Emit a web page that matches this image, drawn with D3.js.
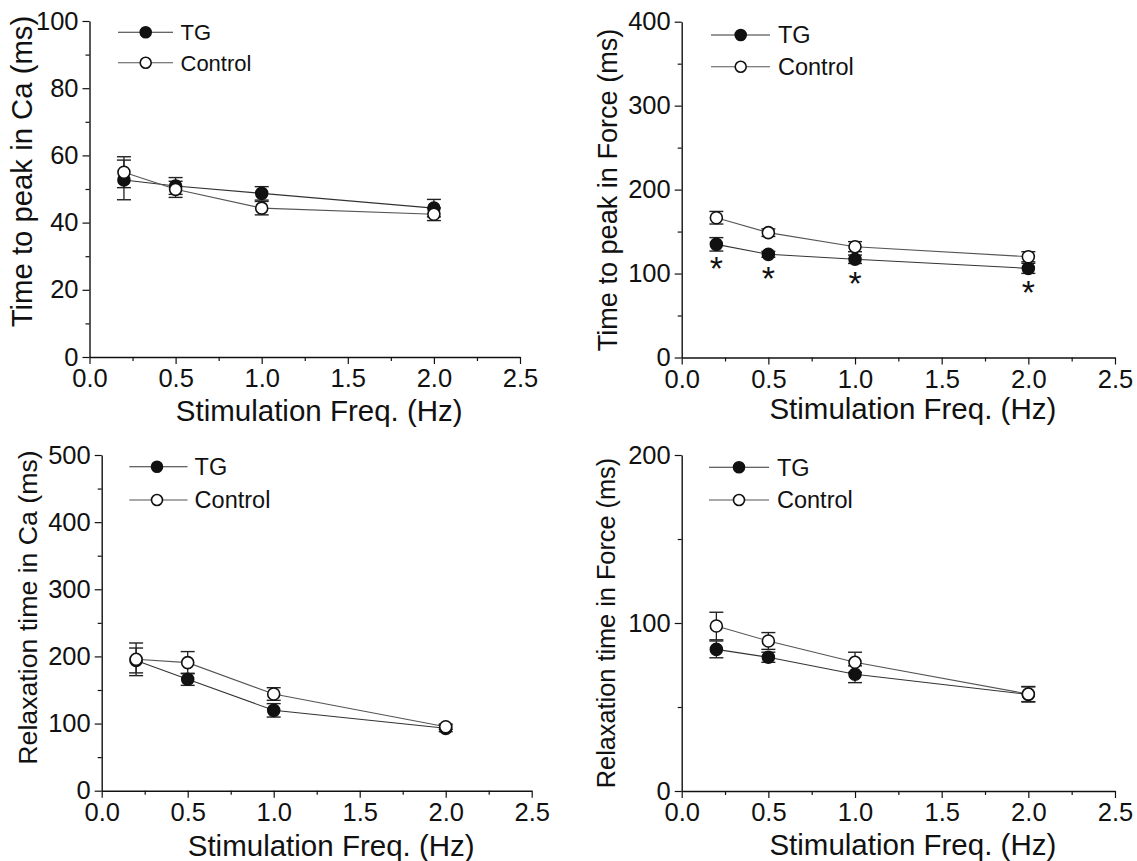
<!DOCTYPE html>
<html>
<head>
<meta charset="utf-8">
<script src="https://cdn.jsdelivr.net/npm/d3@7"></script>
<style>
  html, body { margin: 0; padding: 0; background: #fff; }
  svg { display: block; }
  text { font-family: "Liberation Sans", Arial, Helvetica, sans-serif; fill: #111; }
</style>
</head>
<body>
<svg id="chart" width="1137" height="861"></svg>
<script>
// ---------------- DATA ----------------
const freq = [0.2, 0.5, 1.0, 2.0];
const xTicks = [0, 0.5, 1.0, 1.5, 2.0, 2.5];
const xMinorTicks = [0.25, 0.75, 1.25, 1.75, 2.25];
const xTitle = "Stimulation Freq. (Hz)";
const seriesNames = ["TG", "Control"];

// Time to peak in Ca
const caPeakTG = [52.7, 50.9, 48.7, 44.3];
const caPeakTGErr = [5.9, 2.5, 2.0, 2.6];
const caPeakCtrl = [55.0, 49.9, 44.3, 42.5];
const caPeakCtrlErr = [4.6, 2.4, 2.0, 1.9];
const caPeakTicks = [0, 20, 40, 60, 80, 100];
const caPeakMinor = [10, 30, 50, 70, 90];

// Time to peak in Force
const forcePeakTG = [134.8, 122.9, 117.0, 106.2];
const forcePeakTGErr = [8, 3.5, 5, 6];
const forcePeakCtrl = [166.5, 148.7, 132.0, 120.0];
const forcePeakCtrlErr = [7.5, 4.5, 6, 6];
const forcePeakSig = [true, true, true, true];
const forcePeakTicks = [0, 100, 200, 300, 400];
const forcePeakMinor = [50, 150, 250, 350];

// Relaxation time in Ca
const caRelaxTG = [194.0, 165.9, 119.7, 92.9];
const caRelaxTGErr = [18.5, 9, 10, 5];
const caRelaxCtrl = [195.7, 190.7, 144.0, 95.3];
const caRelaxCtrlErr = [24.3, 16.5, 9.4, 4];
const caRelaxTicks = [0, 100, 200, 300, 400, 500];
const caRelaxMinor = [50, 150, 250, 350, 450];

// Relaxation time in Force
const forceRelaxTG = [84.3, 79.6, 69.5, 57.5];
const forceRelaxTGErr = [5, 3, 5, 4.5];
const forceRelaxCtrl = [98.2, 89.3, 76.6, 57.7];
const forceRelaxCtrlErr = [8.2, 5, 6, 4.5];
const forceRelaxTicks = [0, 100, 200];
const forceRelaxMinor = [50, 150];

const yTitles = ["Time to peak in Ca (ms)", "Time to peak in Force (ms)",
                 "Relaxation time in Ca (ms)", "Relaxation time in Force (ms)"];

// ---------------- LAYOUT ----------------
const panels = [
  { tg: caPeakTG, tgErr: caPeakTGErr, ctrl: caPeakCtrl, ctrlErr: caPeakCtrlErr,
    ticks: caPeakTicks, minor: caPeakMinor, title: yTitles[0], sig: null,
    L: { x0: 89.5, x1: 520, yTop: 21, yBot: 357, tFont: 29.3, tX: 32, tY: 171.5,
         legX0: 118, legX1: 173, legM: 145.7, legT: 180.5, legY: [32.3, 62.7], legFont: 22, xTitleY: 421 } },
  { tg: forcePeakTG, tgErr: forcePeakTGErr, ctrl: forcePeakCtrl, ctrlErr: forcePeakCtrlErr,
    ticks: forcePeakTicks, minor: forcePeakMinor, title: yTitles[1], sig: forcePeakSig,
    L: { x0: 681.7, x1: 1115, yTop: 21.7, yBot: 357.5, tFont: 27.1, tX: 616.5, tY: 190,
         legX0: 711, legX1: 770, legM: 740.7, legT: 778, legY: [35, 66.7], legFont: 23.5, xTitleY: 419 } },
  { tg: caRelaxTG, tgErr: caRelaxTGErr, ctrl: caRelaxCtrl, ctrlErr: caRelaxCtrlErr,
    ticks: caRelaxTicks, minor: caRelaxMinor, title: yTitles[2], sig: null,
    L: { x0: 101.7, x1: 531.7, yTop: 455, yBot: 790.7, tFont: 26.7, tX: 37, tY: 607.5,
         legX0: 129.3, legX1: 187.5, legM: 157, legT: 194.6, legY: [466.7, 500], legFont: 23.5, xTitleY: 856 } },
  { tg: forceRelaxTG, tgErr: forceRelaxTGErr, ctrl: forceRelaxCtrl, ctrlErr: forceRelaxCtrlErr,
    ticks: forceRelaxTicks, minor: forceRelaxMinor, title: yTitles[3], sig: null,
    L: { x0: 681.7, x1: 1115, yTop: 455, yBot: 791, tFont: 25.3, tX: 615, tY: 623,
         legX0: 709, legX1: 769, legM: 739, legT: 777, legY: [467.3, 500], legFont: 23.5, xTitleY: 855 } }
];

const svg = d3.select("#chart");
const R = 6, CAP = 7;
const lineCol = ["#333", "#555"];

panels.forEach(p => {
  const L = p.L;
  const x = d3.scaleLinear().domain([xTicks[0], xTicks[xTicks.length - 1]]).range([L.x0, L.x1]);
  const y = d3.scaleLinear().domain([p.ticks[0], p.ticks[p.ticks.length - 1]]).range([L.yBot, L.yTop]);
  const g = svg.append("g");

  // x axis (major + minor)
  g.append("g").attr("transform", `translate(0,${L.yBot})`)
    .call(d3.axisBottom(x).tickValues(xTicks).tickSize(7).tickSizeOuter(0).tickPadding(5)
      .tickFormat(d3.format(".1f")));
  const xm = g.append("g").attr("transform", `translate(0,${L.yBot})`)
    .call(d3.axisBottom(x).tickValues(xMinorTicks).tickSize(4).tickSizeOuter(0).tickFormat(""));
  xm.select(".domain").remove();

  // y axis (major + minor)
  g.append("g").attr("transform", `translate(${L.x0},0)`)
    .call(d3.axisLeft(y).tickValues(p.ticks).tickSize(7).tickSizeOuter(0).tickPadding(4)
      .tickFormat(d3.format("d")));
  const ym = g.append("g").attr("transform", `translate(${L.x0},0)`)
    .call(d3.axisLeft(y).tickValues(p.minor).tickSize(4).tickSizeOuter(0).tickFormat(""));
  ym.select(".domain").remove();

  g.selectAll(".domain").attr("stroke", "#111").attr("stroke-width", 1.4);
  g.selectAll(".tick line").attr("stroke", "#111").attr("stroke-width", 1.2);
  g.selectAll(".tick text").attr("font-size", 25.5).attr("fill", "#111")
    .attr("font-family", '"Liberation Sans", Arial, sans-serif');

  // axis titles
  g.append("text").attr("x", (L.x0 + L.x1) / 2 + 14.5).attr("y", L.xTitleY)
    .attr("text-anchor", "middle").attr("font-size", 29.5).text(xTitle);
  g.append("text").attr("transform", `translate(${L.tX},${L.tY}) rotate(-90)`)
    .attr("text-anchor", "middle").attr("font-size", L.tFont).text(p.title);

  // series
  const series = [
    { vals: p.tg, err: p.tgErr, fill: "#111", col: lineCol[0] },
    { vals: p.ctrl, err: p.ctrlErr, fill: "#fff", col: lineCol[1] }
  ];
  const line = d3.line().x((d, i) => x(freq[i])).y(d => y(d));

  series.forEach(s => {
    g.append("path").datum(s.vals).attr("d", line).attr("fill", "none")
      .attr("stroke", s.col).attr("stroke-width", 1.1);
  });
  series.forEach(s => {
    const eb = g.append("g");
    s.vals.forEach((v, i) => {
      const cx = x(freq[i]);
      const yt = y(v + s.err[i]), yb = y(v - s.err[i]);
      eb.append("line").attr("x1", cx).attr("x2", cx).attr("y1", yt).attr("y2", yb)
        .attr("stroke", "#222").attr("stroke-width", 1.3);
      [yt, yb].forEach(yy => eb.append("line").attr("x1", cx - CAP).attr("x2", cx + CAP)
        .attr("y1", yy).attr("y2", yy).attr("stroke", "#222").attr("stroke-width", 1.4));
    });
  });
  series.forEach(s => {
    g.selectAll(null).data(s.vals).enter().append("circle")
      .attr("cx", (d, i) => x(freq[i])).attr("cy", d => y(d)).attr("r", R)
      .attr("fill", s.fill).attr("stroke", "#111").attr("stroke-width", 1.6);
  });

  // significance asterisks
  if (p.sig) {
    const sigData = p.tg.map((v, i) => ({ f: freq[i], v: v, s: p.sig[i] })).filter(d => d.s);
    g.selectAll(null).data(sigData).enter().append("text")
      .attr("x", d => x(d.f)).attr("y", d => y(d.v) + 36)
      .attr("text-anchor", "middle").attr("font-size", 34).text("*");
  }

  // legend
  const leg = g.append("g");
  series.forEach((s, k) => {
    const ly = L.legY[k];
    leg.append("line").attr("x1", L.legX0).attr("x2", L.legX1).attr("y1", ly).attr("y2", ly)
      .attr("stroke", s.col).attr("stroke-width", 1.1);
    leg.append("circle").attr("cx", L.legM).attr("cy", ly).attr("r", R - 0.5)
      .attr("fill", s.fill).attr("stroke", "#111").attr("stroke-width", 1.6);
    leg.append("text").attr("x", L.legT).attr("y", ly + L.legFont * 0.36)
      .attr("font-size", L.legFont).text(seriesNames[k]);
  });
});
</script>
</body>
</html>
